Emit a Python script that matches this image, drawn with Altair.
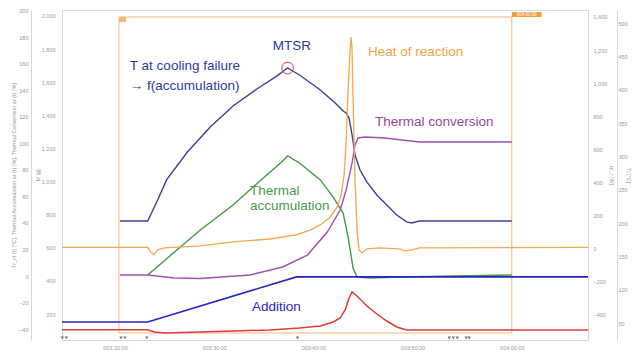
import altair as alt
import pandas as pd

# ---- data (time in minutes since 000:00:00) ----
TCF_T = [200.5, 203.3, 204.3, 205.2, 207.3, 209.6, 211.9, 214.3, 216.3, 217.4, 218.6, 220.7, 222.2,
         223.0, 223.3, 223.6, 223.9, 224.2, 224.7, 225.4, 226.4, 227.4, 228.4, 229.4, 229.9, 230.7, 240.0]
TCF_V = [41.5, 41.5, 57.4, 72.5, 93.6, 112.5, 128.3, 141.1, 150.9, 157.0, 151.7, 140.4, 130.6,
         124.5, 123.0, 119.2, 106.4, 91.3, 80.0, 70.9, 61.1, 53.6, 46.0, 40.8, 40.0, 41.5, 41.5]

ACC_T = [203.3, 206.0, 208.6, 211.9, 214.6, 216.8, 217.4, 218.6, 220.7, 222.0, 223.0, 223.5, 224.0,
         224.4, 225.7, 228.7, 240.0]
ACC_V = [0.8, 18.1, 34.7, 53.6, 71.7, 86.0, 90.6, 85.3, 72.5, 59.6, 47.5, 29.4, 6.0,
         -0.8, -1.5, -0.8, 0.8]

CONV_T = [200.5, 203.3, 206.0, 208.6, 213.6, 216.9, 219.4, 221.4, 222.7, 223.3, 223.9, 224.2, 224.5,
          225.2, 227.2, 230.7, 240.0]
CONV_V = [0.8, 0.8, -1.5, -1.9, 0.8, 6.8, 15.8, 33.2, 49.8, 64.9, 85.3, 98.9, 104.2,
          104.9, 104.2, 101.1, 101.1]

QR_T = [194.66, 203.3, 203.6, 203.9, 204.3, 205.0, 208.6, 211.9, 215.6, 218.3, 219.7, 220.7, 221.7,
        222.4, 222.8, 223.1, 223.3, 223.5, 223.7, 223.8, 223.9, 224.0, 224.2, 224.4, 224.6, 224.9,
        225.4, 226.7, 228.7, 229.2, 229.9, 230.7, 247.68]
QR_V = [8, 8, -19, -37, -7, 5, 17, 41, 59, 84, 114, 144, 192,
        253, 325, 446, 657, 959, 1201, 1279, 1201, 899, 416, 114, -7, -25,
        -1, 5, -1, -13, -7, 5, 8]

ADD_T = [194.66, 203.3, 218.3, 247.68]
ADD_V = [152, 152, 424, 424]

TJ_T = [194.66, 203.3, 204.0, 205.0, 208.6, 211.9, 215.6, 218.6, 220.7, 222.0, 222.7, 223.2, 223.6,
        223.9, 224.4, 225.4, 226.4, 227.4, 228.4, 229.4, 247.68]
TJ_V = [40, 40, 36.5, 35, 36.5, 38, 39.5, 42.5, 45.5, 51.5, 57.5, 69.5, 87.5,
        96.5, 90.5, 75.5, 63.5, 53, 44, 39.5, 39.5]

MARK_T = [194.7, 195.1, 200.6, 201.0, 203.2, 218.4, 233.7, 234.1, 234.5, 235.4, 235.7]

X_TICKS = [200, 210, 220, 230, 240]
T_TICKS = list(range(-40, 201, 20))
M_TICKS = list(range(200, 2001, 200))
QR_TICKS = list(range(-400, 1401, 200))
TJ_TICKS = list(range(50, 501, 50))

LABELS = [
    {"t": 217.84, "v": 173.6, "txt": "MTSR", "c": "#2d3a9a", "a": "center"},
    {"t": 201.5, "v": 158.5, "txt": "T at cooling failure", "c": "#2d3a9a", "a": "left"},
    {"t": 201.5, "v": 143.4, "txt": "\u2192 f(accumulation)", "c": "#2d3a9a", "a": "left"},
    {"t": 225.5, "v": 169.1, "txt": "Heat of reaction", "c": "#f2a444", "a": "left"},
    {"t": 226.2, "v": 116.2, "txt": "Thermal conversion", "c": "#944a94", "a": "left"},
    {"t": 213.6, "v": 64.2, "txt": "Thermal", "c": "#4a9a4a", "a": "left"},
    {"t": 213.6, "v": 52.8, "txt": "accumulation", "c": "#4a9a4a", "a": "left"},
    {"t": 213.8, "v": -23.4, "txt": "Addition", "c": "#2a2ac8", "a": "left"},
]

XDOM = [194.66, 247.68]
LAB = dict(labelFontSize=5.5, labelColor="#999999", labelFont="Liberation Sans",
           titleFontSize=5.5, titleColor="#999999", titleFont="Liberation Sans",
           titleFontWeight="normal", tickSize=0, labelFlush=False, labelOverlap=False,
           domainColor="#d8d8d8", grid=False)

xaxis = alt.Axis(values=X_TICKS, title=None, labelPadding=5,
                 labelExpr="'00' + floor(datum.value/60) + ':' + (datum.value%60 < 10 ? '0' : '') + (datum.value%60) + ':00'",
                 **LAB)


def X(field="t"):
    return alt.X(f"{field}:Q", scale=alt.Scale(domain=XDOM, nice=False, zero=False), axis=xaxis)


TSCALE = alt.Scale(domain=[-48.3, 200.75], nice=False, zero=False)
taxis = alt.Axis(orient="left", offset=31, values=T_TICKS, labelPadding=3, titleX=-18,
                 titleBaseline="middle",
                 title="Tr_cf (t) [\u00b0C], Thermal Accumulation ar (t) [%], Thermal Conversion ar (t) [%]",
                 **LAB)


def YT(field="v"):
    return alt.Y(f"{field}:Q", scale=TSCALE, axis=taxis)


def line(ts, vs, color, width=1.4):
    df = pd.DataFrame({"t": ts, "v": vs})
    return alt.Chart(df).mark_line(color=color, strokeWidth=width)


# orange window box
box = alt.Chart(pd.DataFrame({"t": [200.4], "t2": [240.0], "v": [195.5], "v2": [-43.0]})).mark_rect(
    fillOpacity=0, stroke="#f6b77a", strokeWidth=1).encode(x=X(), x2="t2:Q", y=YT(), y2="v2:Q")

tag_r = alt.Chart(pd.DataFrame({"t": [240.0], "t2": [243.0], "v": [199.2], "v2": [195.5]})).mark_rect(
    fill="#f39a3a").encode(x=X(), x2="t2:Q", y=YT(), y2="v2:Q")
tag_r_txt = alt.Chart(pd.DataFrame({"t": [241.5], "v": [197.35], "txt": ["004:00:00"]})).mark_text(
    color="white", fontSize=4.5, font="Liberation Sans").encode(x=X(), y=YT(), text="txt:N")
tag_l = alt.Chart(pd.DataFrame({"t": [200.4], "t2": [201.1], "v": [195.5], "v2": [191.7]})).mark_rect(
    fill="#f6b77a").encode(x=X(), x2="t2:Q", y=YT(), y2="v2:Q")

tcf = line(TCF_T, TCF_V, "#3b4096").encode(x=X(), y=YT())
conv = line(CONV_T, CONV_V, "#a050b0").encode(x=X(), y=YT())
acc = line(ACC_T, ACC_V, "#3f9a3f").encode(x=X(), y=YT())

mtsr = alt.Chart(pd.DataFrame({"t": [217.4], "v": [157.0]})).mark_point(
    shape="circle", size=135, filled=False, color="#e03434", strokeWidth=1.2).encode(x=X(), y=YT())

marks = alt.Chart(pd.DataFrame({"t": MARK_T, "v": [-46.8] * len(MARK_T)})).mark_point(
    shape="triangle-down", filled=True, size=12, color="#777777", opacity=1).encode(x=X(), y=YT())

texts_l = [alt.Chart(pd.DataFrame([d])).mark_text(fontSize=13.5, font="Liberation Sans", baseline="middle",
                                                   align=d["a"], color=d["c"]).encode(
    x=X(), y=YT(), text="txt:N") for d in LABELS]

tgroup = alt.layer(box, tag_l, tag_r, tag_r_txt, tcf, conv, acc, mtsr, marks, *texts_l)

madd = line(ADD_T, ADD_V, "#2323cc", 1.6).encode(
    x=X(),
    y=alt.Y("v:Q", scale=alt.Scale(domain=[43, 2036], nice=False, zero=False),
            axis=alt.Axis(orient="left", offset=0, values=M_TICKS, labelPadding=7, titlePadding=1,
                          title="M [g]", **LAB)))

qr = line(QR_T, QR_V, "#f5a84a", 1.3).encode(
    x=X(),
    y=alt.Y("v:Q", scale=alt.Scale(domain=[-551, 1442], nice=False, zero=False),
            axis=alt.Axis(orient="right", offset=0, values=QR_TICKS, labelPadding=5, titlePadding=2,
                          title="qr_r [W]", **LAB)))

tj = line(TJ_T, TJ_V, "#e03a3a", 1.5).encode(
    x=X(),
    y=alt.Y("v:Q", scale=alt.Scale(domain=[24.5, 519.5], nice=False, zero=False),
            axis=alt.Axis(orient="right", offset=29, values=TJ_TICKS, labelPadding=1, titleX=11.5,
                          titleBaseline="middle", title="Tj [\u00b0C]", **LAB)))

chart = alt.layer(tgroup, qr, tj, madd).resolve_scale(y="independent").properties(
    width=526, height=330,
    autosize=alt.AutoSizeParams(type="none"),
    padding={"left": 54, "top": 2, "right": 44, "bottom": 10},
).configure_view(stroke="#e2e2e2").configure(background="white")

chart.save("out.html", embed_options={"renderer": "svg", "actions": False})
